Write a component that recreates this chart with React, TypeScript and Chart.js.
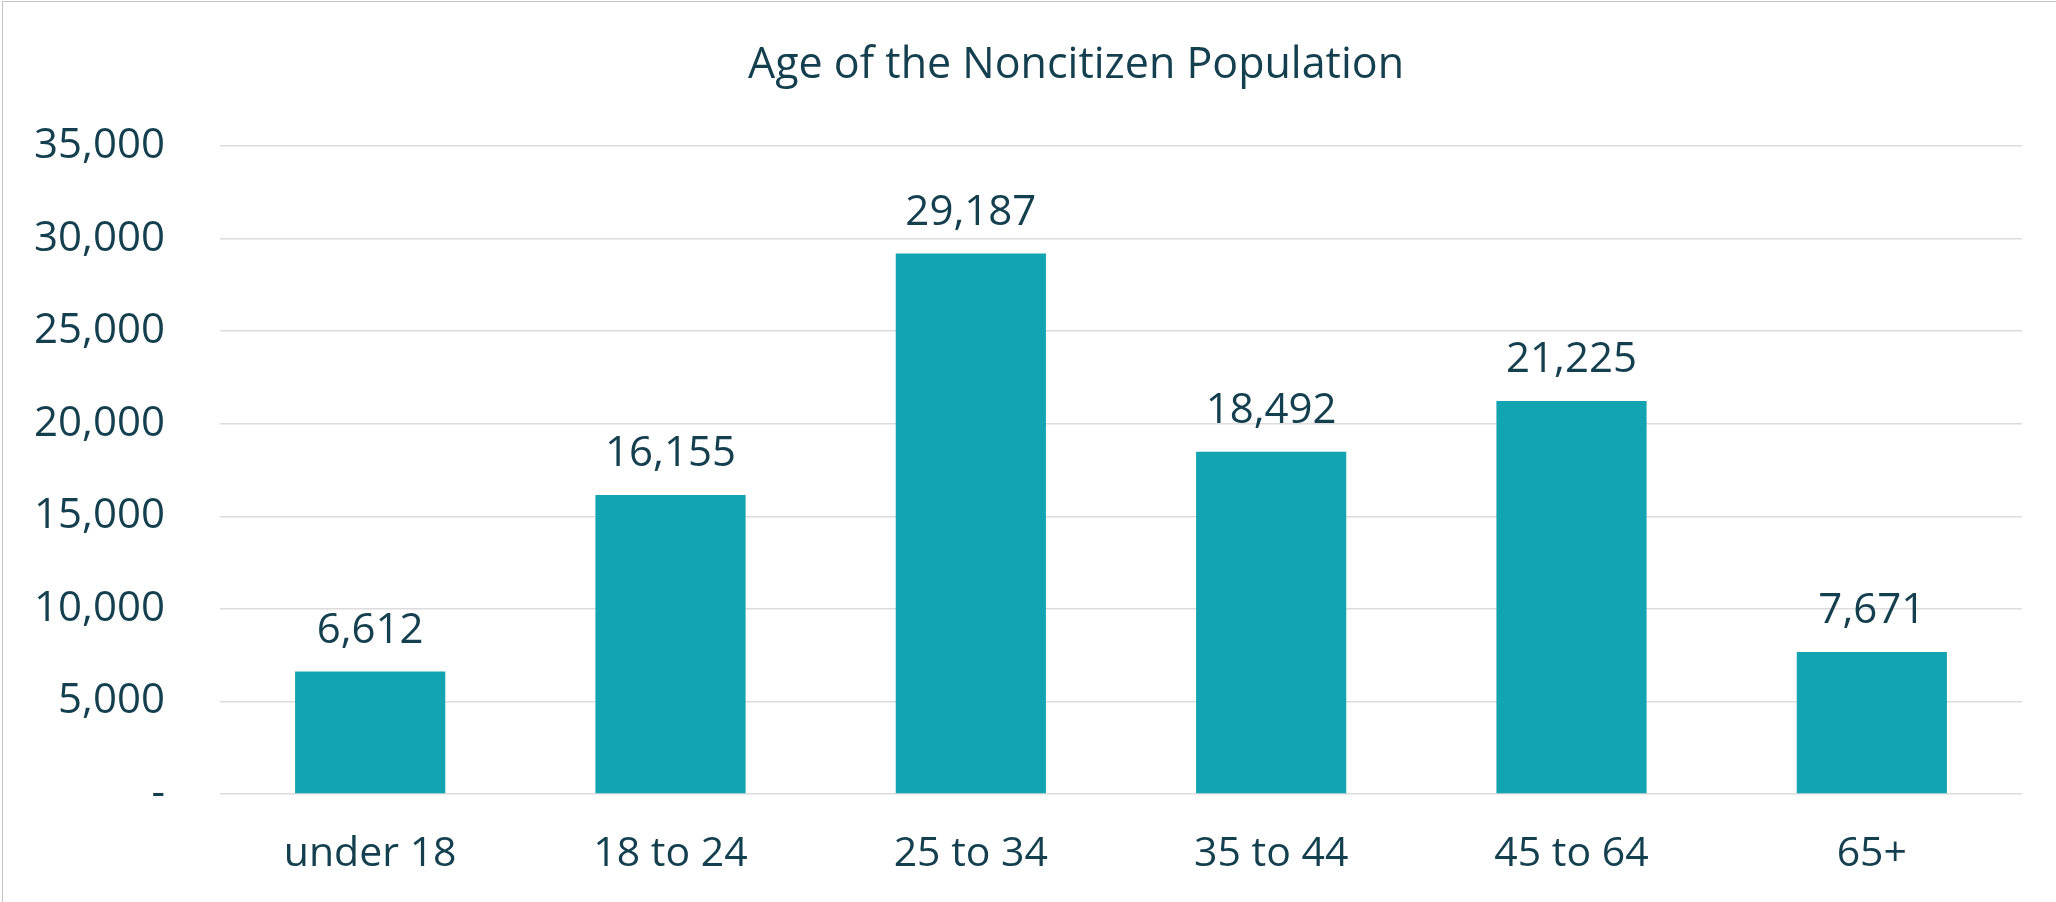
import React, { useEffect, useRef } from "react";
import { Chart, registerables } from "chart.js";

Chart.register(...registerables);

const categories = ["under 18", "18 to 24", "25 to 34", "35 to 44", "45 to 64", "65+"];
const populationValues = [6612, 16155, 29187, 18492, 21225, 7671];
const titleText = "Age of the Noncitizen Population";
const yMax = 35000;
const yStep = 5000;

const FONT = "'Open Sans', 'Noto Sans', sans-serif";
const TEXT_COLOR = "#133F4E";
const BAR_COLOR = "#12A4B0";
const GRID_COLOR = "#dcdcdc";

const fmt = (v: number) => (v === 0 ? "-" : v.toLocaleString("en-US"));

const titlePlugin = {
  id: "customTitle",
  afterDraw(chart: any) {
    const ctx = chart.ctx;
    ctx.save();
    ctx.font = `43px ${FONT}`;
    ctx.fillStyle = TEXT_COLOR;
    ctx.textAlign = "center";
    ctx.textBaseline = "alphabetic";
    const cx = (chart.chartArea.left + chart.chartArea.right) / 2 - 45;
    ctx.fillText(titleText, cx, 78);
    ctx.restore();
  },
};

const dataLabelPlugin = {
  id: "barValueLabels",
  afterDatasetsDraw(chart: any) {
    const ctx = chart.ctx;
    ctx.save();
    ctx.font = `42px ${FONT}`;
    ctx.fillStyle = TEXT_COLOR;
    ctx.textAlign = "center";
    ctx.textBaseline = "alphabetic";
    chart.data.datasets.forEach((ds: any, di: number) => {
      const meta = chart.getDatasetMeta(di);
      meta.data.forEach((bar: any, i: number) => {
        ctx.fillText(fmt(ds.data[i]), bar.x, bar.y - 29);
      });
    });
    ctx.restore();
  },
};

export default function App() {
  const canvasRef = useRef<HTMLCanvasElement | null>(null);

  useEffect(() => {
    if (!canvasRef.current) return;
    const chart = new Chart(canvasRef.current, {
      type: "bar",
      data: {
        labels: categories,
        datasets: [
          {
            label: "Population",
            data: populationValues,
            backgroundColor: BAR_COLOR,
            borderWidth: 0,
            barPercentage: 0.5,
            categoryPercentage: 1,
          },
        ],
      },
      options: {
        responsive: false,
        animation: false,
        layout: { padding: { top: 146, left: 0, right: 34, bottom: 0 } },
        plugins: {
          legend: { display: false },
          title: { display: false },
          tooltip: { enabled: false },
        },
        scales: {
          x: {
            grid: { display: false, drawTicks: false },
            border: { display: false },
            ticks: {
              color: TEXT_COLOR,
              font: { family: FONT, size: 41 },
              padding: 36,
              maxRotation: 0,
            },
            afterFit: (axis: any) => {
              axis.height = 108;
            },
          },
          y: {
            min: 0,
            max: yMax,
            grid: { color: GRID_COLOR, lineWidth: 1.5, drawTicks: false },
            border: { display: false },
            ticks: {
              stepSize: yStep,
              color: TEXT_COLOR,
              font: { family: FONT, size: 42 },
              padding: 55,
              callback: (v: any) => fmt(Number(v)),
            },
            afterFit: (axis: any) => {
              axis.width = 220;
            },
          },
        },
      },
      plugins: [titlePlugin, dataLabelPlugin],
    });
    return () => chart.destroy();
  }, []);

  return (
    <div style={{ position: "absolute", left: 0, top: 0, width: 2056, height: 902, background: "#fff" }}>
      <canvas ref={canvasRef} width={2056} height={902} style={{ display: "block" }} />
      <div
        style={{
          position: "absolute",
          left: 2,
          top: 1,
          width: 2060,
          height: 910,
          borderLeft: "1px solid #c4c4c4",
          borderTop: "1px solid #c4c4c4",
          pointerEvents: "none",
        }}
      />
    </div>
  );
}
